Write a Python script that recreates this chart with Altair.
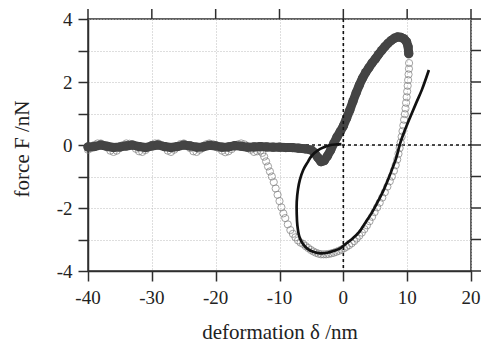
import altair as alt
import pandas as pd

# ---- approach curve (dark filled circles) ----
x_app = [-40, -39, -38, -37, -36, -35, -34, -33, -32, -31,
         -30, -29, -28, -27, -26, -25, -24, -23, -22, -21,
         -20, -19, -18, -17, -16, -15, -14, -13, -12, -11,
         -10, -9, -8, -7, -6, -5,
         -4.5, -4, -3.5, -3, -2.5, -2, -1.5, -1, -0.5, 0,
         0.5, 1, 1.5, 2, 2.5, 3, 3.5, 4, 4.5, 5, 5.5, 6, 6.5, 7, 7.5, 8, 8.5, 9, 9.5,
         9.9, 10.15, 10.25]
y_app = [-0.06, -0.05, 0.0, -0.04, -0.08, -0.06, -0.03, 0.0, -0.05, -0.08,
         -0.03, 0.0, -0.05, -0.08, -0.05, 0.0, -0.03, -0.07, -0.06, -0.01,
         -0.03, -0.07, -0.06, -0.02, -0.04, -0.07, -0.06, -0.05, -0.06, -0.07,
         -0.07, -0.08, -0.08, -0.1, -0.12, -0.16,
         -0.25, -0.4, -0.53, -0.5, -0.35, -0.17, 0.05, 0.25, 0.42, 0.6,
         0.85, 1.1, 1.38, 1.65, 1.9, 2.12, 2.3, 2.45, 2.6, 2.73, 2.87, 3.0, 3.12, 3.23, 3.32, 3.39, 3.43, 3.42, 3.37,
         3.28, 3.12, 2.9]

# ---- retraction curve (open circles) ----
x_ret = [10.3, 10.28, 10.22, 10.15, 10.08, 10.0, 9.92, 9.83, 9.74, 9.64, 9.52, 9.4, 9.27, 9.13, 8.98,
         8.82, 8.64, 8.44, 8.2, 7.92, 7.6, 7.28,
         6.9, 6.5, 6.1, 5.7, 5.3, 4.9, 4.5, 4.1, 3.7, 3.3, 2.9, 2.5, 2.1, 1.7, 1.3,
         0.9, 0.5, 0.1, -0.3, -0.7, -1.1, -1.5, -1.9, -2.3, -2.7, -3.1, -3.5, -3.9, -4.3, -4.7,
         -5.1, -5.5, -5.9, -6.3, -6.7, -7.1, -7.5, -7.9, -8.3, -8.7, -9.1, -9.4, -9.7, -10.0,
         -10.3, -10.6, -10.9, -11.2, -11.5, -11.8, -12.1, -12.4, -12.7, -13.0,
         -13.5, -14, -14.5, -15, -15.5, -16, -16.5, -17, -17.5, -18, -18.5, -19, -19.5, -20,
         -20.5, -21, -21.5, -22, -22.5, -23, -23.5, -24, -24.5, -25, -25.5, -26, -26.5, -27,
         -27.5, -28, -28.5, -29, -29.5, -30, -30.5, -31, -31.5, -32, -32.5, -33, -33.5, -34,
         -34.5, -35, -35.5, -36, -36.5, -37, -37.5, -38, -38.5, -39, -39.5, -40]
y_ret = [2.6, 2.42, 2.24, 2.06, 1.88, 1.7, 1.52, 1.34, 1.16, 0.98, 0.8, 0.62, 0.44, 0.26, 0.08,
         -0.1, -0.28, -0.46, -0.64, -0.82, -1.0, -1.15,
         -1.32, -1.5, -1.67, -1.83, -1.98, -2.13, -2.28, -2.42, -2.55, -2.67, -2.78, -2.88, -2.97, -3.05, -3.12,
         -3.18, -3.23, -3.28, -3.32, -3.36, -3.39, -3.42, -3.44, -3.46, -3.47, -3.47, -3.47, -3.45, -3.42, -3.38,
         -3.33, -3.27, -3.21, -3.14, -3.1, -3.03, -2.93, -2.82, -2.7, -2.52, -2.32, -2.17, -1.98, -1.78,
         -1.58, -1.38, -1.18, -1.0, -0.84, -0.68, -0.52, -0.37, -0.25, -0.18,
         -0.2, -0.22, -0.15, -0.05, 0.02, 0.05, 0.02, -0.05, -0.13, -0.2, -0.23, -0.18, -0.1, -0.02,
         0.03, 0.05, 0.02, -0.06, -0.15, -0.22, -0.2, -0.1, 0.0, 0.05, 0.03, -0.05, -0.15, -0.22,
         -0.18, -0.08, 0.0, 0.05, 0.05, 0.0, -0.08, -0.16, -0.22, -0.2, -0.12, -0.02, 0.04, 0.05,
         0.0, -0.1, -0.18, -0.22, -0.18, -0.08, 0.0, 0.05, 0.05, 0.0, -0.1, -0.15]

# ---- model fit (black line) ----
x_fit = [-0.3, -1.0, -2.0, -3.0, -4.0, -5.0, -5.6, -6.3, -6.8, -7.1,
         -7.3, -7.3, -7.2, -6.9, -6.4, -5.7, -4.6, -3.6, -2.5, -1.5,
         -0.5, 0.5, 1.5, 2.5, 3.5, 4.5, 5.5, 6.2, 6.9, 7.6,
         8.3, 8.9, 9.6, 10.5, 11.4, 12.3, 13.4]
y_fit = [0.03, 0.02, 0.0, -0.07, -0.17, -0.35, -0.55, -0.8, -1.1, -1.4,
         -1.8, -2.2, -2.55, -2.9, -3.12, -3.28, -3.4, -3.44, -3.42, -3.36,
         -3.28, -3.12, -2.96, -2.76, -2.45, -2.14, -1.76, -1.48, -1.15, -0.79,
         -0.4, 0.05, 0.45, 0.9, 1.33, 1.75, 2.38]

x_ticks = [-40, -30, -20, -10, 0, 10, 20]
x_tick_labels = ["-40", "-30", "-20", "-10", "0", "10", "20"]
y_ticks = [-4, -3, -2, -1, 0, 1, 2, 3, 4]
y_label_vals = [-4, -2, 0, 2, 4]
y_tick_labels = ["-4", "-2", "0", "2", "4"]

app = pd.DataFrame({"x": x_app, "y": y_app, "i": range(len(x_app))})
ret = pd.DataFrame({"x": x_ret, "y": y_ret, "i": range(len(x_ret))})
fit = pd.DataFrame({"x": x_fit, "y": y_fit, "i": range(len(x_fit))})
zero = pd.DataFrame({"x": [0], "y": [0]})
xt = pd.DataFrame({"x": x_ticks, "t": x_tick_labels})
yt = pd.DataFrame({"y": y_ticks})
yl = pd.DataFrame({"y": y_label_vals, "t": y_tick_labels})

W, H = 383, 252
FONT = "Liberation Serif"
AX = "#2e2e2e"
TXT = "#222222"
xs = alt.Scale(domain=[-40, 20], nice=False, zero=False)
ys = alt.Scale(domain=[-4, 4], nice=False, zero=False)

x_axis = alt.Axis(values=x_ticks, title="deformation δ /nm", grid=True, labels=False,
                  titleFont=FONT, titleFontSize=21, titleFontWeight="normal", titleColor=TXT,
                  titleBaseline="alphabetic", titleY=67,
                  tickSize=10, tickWidth=1.5, tickColor=AX, domainColor=AX, domainWidth=1.5,
                  gridColor="#bdbdbd", gridDash=[1, 2], gridWidth=1)
y_axis = alt.Axis(values=y_ticks, title="force F /nN", grid=True, labels=False,
                  titleFont=FONT, titleFontSize=21, titleFontWeight="normal", titleColor=TXT,
                  titleBaseline="alphabetic", titleX=-60, titleY=129.5, titleAngle=-90,
                  tickSize=10, tickWidth=1.5, tickColor=AX, domainColor=AX, domainWidth=1.5,
                  gridColor="#bdbdbd", gridDash=[1, 2], gridWidth=1)

X = alt.X("x:Q", scale=xs, axis=x_axis)
Y = alt.Y("y:Q", scale=ys, axis=y_axis)

hline = alt.Chart(zero).mark_rule(color="#111111", strokeWidth=1.6, strokeDash=[3, 3]).encode(y=Y)
vline = alt.Chart(zero).mark_rule(color="#111111", strokeWidth=1.6, strokeDash=[3, 3]).encode(x=X)

ret_pts = alt.Chart(ret).mark_point(shape="circle", filled=False, size=52, stroke="#7c7c7c",
                                     strokeWidth=1).encode(x=X, y=Y)

app_line = alt.Chart(app).mark_line(color="#444444", strokeWidth=9, strokeCap="round",
                                    strokeJoin="round").encode(x=X, y=Y, order="i:Q")
app_pts = alt.Chart(app).mark_circle(color="#444444", size=85, opacity=1).encode(x=X, y=Y)

fit_line = alt.Chart(fit).mark_line(color="#111111", strokeWidth=2.7,
                                    interpolate="catmull-rom").encode(x=X, y=Y, order="i:Q")

# outward ticks on the top and right frame edges
top_ticks = alt.Chart(xt).mark_rule(color=AX, strokeWidth=1.5).encode(
    x=X, y=alt.value(-10), y2=alt.value(0))
right_ticks = alt.Chart(yt).mark_rule(color=AX, strokeWidth=1.5).encode(
    y=Y, x=alt.value(W), x2=alt.value(W + 10))

# tick labels (serif)
x_labels = alt.Chart(xt).mark_text(font=FONT, fontSize=19, color=TXT, align="center",
                                   baseline="alphabetic").encode(
    x=X, y=alt.value(H + 32.5), text="t:N")
y_labels = alt.Chart(yl).mark_text(font=FONT, fontSize=19, color=TXT, align="right",
                                   baseline="alphabetic", dy=6.5).encode(
    y=Y, x=alt.value(-15.5), text="t:N")

chart = alt.layer(hline, ret_pts, app_line, app_pts, fit_line, vline, top_ticks, right_ticks,
                  x_labels, y_labels).properties(
    width=W, height=H,
    background="white",
    autosize=alt.AutoSizeParams(type="none"),
    padding={"left": 88, "top": 19, "right": 15, "bottom": 73},
).configure_view(stroke=AX, strokeWidth=1.5)

chart.save("out.html", embed_options={"renderer": "svg", "actions": False})
